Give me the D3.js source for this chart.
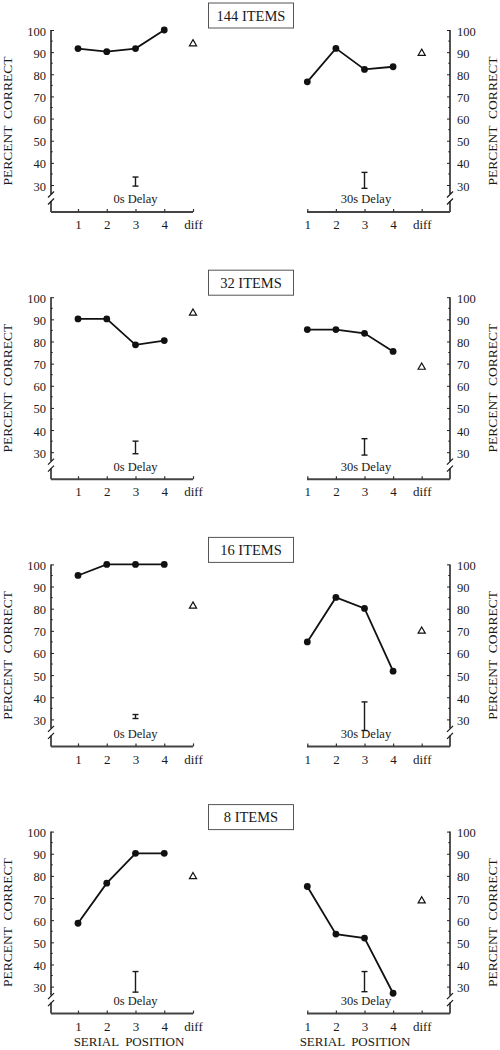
<!DOCTYPE html>
<html><head><meta charset="utf-8">
<script src="https://cdn.jsdelivr.net/npm/d3@7"></script>
<style>
body{margin:0;background:#fff}
svg{display:block}
text{font-family:"Liberation Serif","Times New Roman",serif;fill:#1a1a1a}
</style>
</head><body>
<svg id="c" width="500" height="1050"></svg>
<script>
// ---- data ----
const positions = ["1", "2", "3", "4", "diff"];
const conditions = ["144 ITEMS", "32 ITEMS", "16 ITEMS", "8 ITEMS"];
const delays = ["0s Delay", "30s Delay"];
const yTicks = [30, 40, 50, 60, 70, 80, 90, 100];
const yMinorTicks = [35, 45, 55, 65, 75, 85, 95];
const serial0s = [
  [91.6, 90.2, 91.6, 100],
  [90.2, 90.2, 78.5, 80.4],
  [95.0, 100, 100, 100],
  [58.6, 76.7, 90.2, 90.2]
];
const serial30s = [
  [76.6, 91.7, 82.2, 83.4],
  [85.4, 85.4, 83.7, 75.5],
  [65.0, 85.1, 80.1, 51.8],
  [75.2, 53.7, 51.9, 27.0]
];
const diff0s = [93.8, 92.8, 81.2, 79.7];
const diff30s = [89.5, 68.4, 69.9, 68.7];
const err0s = [[29.5, 33.6], [29.3, 35.0], [30.4, 32.2], [27.5, 36.8]];
const err30s = [[28.5, 35.7], [28.7, 36.1], [25.0, 37.9], [27.7, 36.8]];
const yLabel = "PERCENT  CORRECT";
const xLabel = "SERIAL  POSITION";

// ---- layout ----
const svg = d3.select("#c");
const panelStep = 267.2, firstTop = 30, yHeight = 155, xAxisOff = 182;
const sides = [
  {series: serial0s, diff: diff0s, err: err0s, delay: delays[0], axisX: 51, xr: [78, 193], lineX: [51, 193], right: false, labX: 7, delayDx: 0, serialX: 129},
  {series: serial30s, diff: diff30s, err: err30s, delay: delays[1], axisX: 450, xr: [307.3, 421.7], lineX: [307, 450], right: true, labX: 492, delayDx: 1.5, serialX: 355}
];

conditions.forEach((cond, i) => {
  const top = firstTop + i * panelStep;
  const y = d3.scaleLinear().domain([30, 100]).range([top + yHeight, top]);
  const axisY = top + xAxisOff;

  // title box
  const bw = 85, bh = 25, bx = 251 - bw / 2, by = top - 27;
  svg.append("rect").attr("x", bx).attr("y", by).attr("width", bw).attr("height", bh)
    .attr("fill", "#fff").attr("stroke", "#555").attr("stroke-width", 1);
  svg.append("text").attr("x", bx + bw / 2).attr("y", by + bh / 2 + 5)
    .attr("text-anchor", "middle").style("font-size", "14.5px").text(cond);

  sides.forEach(s => {
    const x = d3.scalePoint().domain(positions).range(s.xr);
    const g = svg.append("g");

    // y axis (ticks inward)
    const ax = (s.right ? d3.axisRight(y) : d3.axisLeft(y))
      .tickValues(yTicks).tickSize(-3).tickPadding(s.right ? 7 : 5).tickFormat(d3.format("d"));
    const ga = g.append("g").attr("transform", `translate(${s.axisX},0)`).call(ax);
    ga.select(".domain").remove();
    ga.selectAll(".tick line").attr("stroke", "#222").attr("stroke-width", 1);
    ga.selectAll(".tick text").style("font-size", "12.5px").style("font-family", "Liberation Serif").attr("fill", "#1a1a1a").attr("dy", "0.4em");
    // minor ticks
    g.selectAll(null).data(yMinorTicks).enter().append("line")
      .attr("x1", s.axisX).attr("x2", s.axisX + (s.right ? -1.8 : 1.8))
      .attr("y1", d => y(d)).attr("y2", d => y(d)).attr("stroke", "#333").attr("stroke-width", 1);
    // axis line with break
    const b1 = top + 164, b2 = top + 171;
    g.append("line").attr("x1", s.axisX).attr("x2", s.axisX).attr("y1", y(100)).attr("y2", b1)
      .attr("stroke", "#1a1a1a").attr("stroke-width", 1.5);
    g.append("line").attr("x1", s.axisX).attr("x2", s.axisX).attr("y1", b2).attr("y2", axisY)
      .attr("stroke", "#1a1a1a").attr("stroke-width", 1.5);
    [b1, b2].forEach(b => {
      g.append("line").attr("x1", s.axisX - 3).attr("y1", b + 3.5).attr("x2", s.axisX + 3).attr("y2", b - 2.5)
        .attr("stroke", "#1a1a1a").attr("stroke-width", 1.2);
    });

    // x axis
    g.append("line").attr("x1", s.lineX[0]).attr("x2", s.lineX[1]).attr("y1", axisY).attr("y2", axisY)
      .attr("stroke", "#444").attr("stroke-width", 2);
    const xa = d3.axisBottom(x).tickSize(-3).tickPadding(8);
    const gx = g.append("g").attr("transform", `translate(0,${axisY})`).call(xa);
    gx.select(".domain").remove();
    gx.selectAll(".tick line").attr("stroke", "#333").attr("stroke-width", 1.2);
    gx.selectAll(".tick text").style("font-size", "13px").style("font-family", "Liberation Serif").attr("fill", "#1a1a1a");

    // y label
    g.append("text").attr("transform", `translate(${s.labX},${top + xAxisOff / 2}) rotate(-90)`)
      .attr("text-anchor", "middle").attr("dominant-baseline", "central")
      .style("font-size", "13.5px").style("white-space", "pre").text(yLabel);

    // delay label
    g.append("text").attr("x", x("3") + s.delayDx).attr("y", top + 173.3)
      .attr("text-anchor", "middle").style("font-size", "12.5px").text(s.delay);

    // error bar
    const [lo, hi] = s.err[i];
    const ex = x("3");
    g.append("line").attr("x1", ex).attr("x2", ex).attr("y1", y(lo)).attr("y2", y(hi)).attr("stroke", "#1a1a1a").attr("stroke-width", 1.4);
    [lo, hi].forEach(v => g.append("line").attr("x1", ex - 3).attr("x2", ex + 3).attr("y1", y(v)).attr("y2", y(v)).attr("stroke", "#1a1a1a").attr("stroke-width", 1.4));

    // serial position line + points
    const pts = s.series[i].map((v, k) => ({p: positions[k], v}));
    g.append("path").datum(pts)
      .attr("d", d3.line().x(d => x(d.p)).y(d => y(d.v)))
      .attr("fill", "none").attr("stroke", "#111").attr("stroke-width", 1.8);
    g.selectAll(null).data(pts).enter().append("circle")
      .attr("cx", d => x(d.p)).attr("cy", d => y(d.v)).attr("r", 3.4).attr("fill", "#111");

    // diff triangle
    g.append("path").attr("d", d3.symbol(d3.symbolTriangle, 22)())
      .attr("transform", `translate(${x("diff")},${y(s.diff[i])})`)
      .attr("fill", "#fff").attr("stroke", "#111").attr("stroke-width", 1.2);

    // serial position label (bottom row only)
    if (i === conditions.length - 1) {
      g.append("text").attr("x", s.serialX).attr("y", axisY + 32).attr("text-anchor", "middle")
        .style("font-size", "13px").style("white-space", "pre").text(xLabel);
    }
  });
});
</script>
</body></html>
